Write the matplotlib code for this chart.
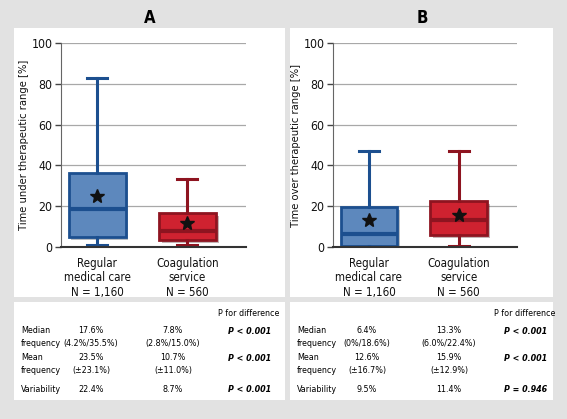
import matplotlib
matplotlib.use("Agg")
import matplotlib.pyplot as plt
import matplotlib.patheffects as pe
from matplotlib.patches import Rectangle

plt.rcParams['font.family'] = ['DejaVu Sans']
plt.rcParams['font.stretch'] = 'condensed'

# box plot values (percent)
groups = ['Regular\nmedical care\nN = 1,160', 'Coagulation\nservice\nN = 560']
under_lo = [1, 1]
under_q1 = [5, 3.5]
under_med = [18.5, 8]
under_q3 = [36.5, 16.5]
under_hi = [83, 33.5]
under_mean = [25, 12]

over_lo = [0, 0.5]
over_q1 = [0.5, 6]
over_med = [6.5, 13]
over_q3 = [19.5, 22.5]
over_hi = [47, 47]
over_mean = [13, 15.5]

# table text
row_names = ['Median\nfrequency', 'Mean\nfrequency', 'Variability']
tab_a_rc = ['17.6%\n(4.2%/35.5%)', '23.5%\n(\u00b123.1%)', '22.4%']
tab_a_cs = ['7.8%\n(2.8%/15.0%)', '10.7%\n(\u00b111.0%)', '8.7%']
tab_a_p = ['P < 0.001', 'P < 0.001', 'P < 0.001']
tab_b_rc = ['6.4%\n(0%/18.6%)', '12.6%\n(\u00b116.7%)', '9.5%']
tab_b_cs = ['13.3%\n(6.0%/22.4%)', '15.9%\n(\u00b112.9%)', '11.4%']
tab_b_p = ['P < 0.001', 'P < 0.001', 'P = 0.946']

W, H = 567, 419
fig = plt.figure(figsize=(W / 100, H / 100), dpi=100)
fig.patch.set_facecolor('#e2e2e2')

def px(x, y, w, h):
    return [x / W, 1 - (y + h) / H, w / W, h / H]

# white panels
for x0, w in ((14, 271), (290, 263)):
    for y0, h in ((28, 269), (302, 98)):
        r = px(x0, y0, w, h)
        fig.add_artist(Rectangle((r[0], r[1]), r[2], r[3], transform=fig.transFigure,
                                 facecolor='white', edgecolor='none', zorder=0))

fills = ['#5d88bd', '#cf2230']
edges = ['#1c4f8f', '#8e1420']

def draw_panel(ax, lo, q1, med, q3, hi, mean, ylabel):
    stats = []
    for i in range(2):
        stats.append(dict(whislo=lo[i], q1=q1[i], med=med[i], q3=q3[i],
                          whishi=hi[i], mean=mean[i], fliers=[]))
    ax.set_axisbelow(True)
    ax.yaxis.grid(True, color='#a8a8a8', lw=0.9)
    bp = ax.bxp(stats, positions=[1, 2], widths=0.63, capwidths=0.22,
                patch_artist=True, showmeans=True, showfliers=False,
                meanprops=dict(marker='*', markerfacecolor='#111111',
                               markeredgecolor='#111111', markersize=10))
    for i in range(2):
        b = bp['boxes'][i]
        b.set_facecolor(fills[i])
        b.set_edgecolor(edges[i])
        b.set_linewidth(2)
        b.set_path_effects([pe.SimplePatchShadow(offset=(2, -2), alpha=0.3), pe.Normal()])
        bp['medians'][i].set_color(edges[i])
        bp['medians'][i].set_linewidth(3)
        for ln in bp['whiskers'][2 * i:2 * i + 2] + bp['caps'][2 * i:2 * i + 2]:
            ln.set_color(edges[i])
            ln.set_linewidth(2.2)
    ax.set_xlim(0.6, 2.65)
    ax.set_ylim(0, 100)
    ax.set_yticks(range(0, 101, 20))
    ax.set_xticks([1, 2])
    ax.set_xticklabels(groups, fontsize=8.3, linespacing=1.15, color='#111111')
    ax.tick_params(axis='x', length=0, pad=7)
    ax.tick_params(axis='y', labelsize=8.8, length=4, width=1, color='#444444', pad=2,
                   labelcolor='#111111')
    for s in ('top', 'right'):
        ax.spines[s].set_visible(False)
    ax.spines['left'].set_color('#666666')
    ax.spines['bottom'].set_color('#333333')
    ax.spines['bottom'].set_linewidth(1.5)
    ax.set_ylabel(ylabel, fontsize=8, labelpad=2, color='#111111')
    ax.set_facecolor('none')

axA = fig.add_axes(px(61, 43, 185, 204))
draw_panel(axA, under_lo, under_q1, under_med, under_q3, under_hi, under_mean,
           'Time under therapeutic range [%]')
axB = fig.add_axes(px(333, 43, 184, 204))
draw_panel(axB, over_lo, over_q1, over_med, over_q3, over_hi, over_mean,
           'Time over therapeutic range [%]')

fig.text(150 / W, 1 - 18 / H, 'A', ha='center', va='center', fontsize=12, fontweight='bold')
fig.text(422 / W, 1 - 18 / H, 'B', ha='center', va='center', fontsize=12, fontweight='bold')

def draw_table(x0, c1, c2, p):
    fs = 6.4
    fig.text((x0 + 204) / W, 1 - 313 / H, 'P for difference', fontsize=fs, va='center')
    ys = [337, 364, 389]
    for i in range(3):
        y = 1 - ys[i] / H
        fig.text((x0 + 7) / W, y, row_names[i], fontsize=fs, va='center', linespacing=1.55)
        fig.text((x0 + 77) / W, y, c1[i], fontsize=fs, va='center', ha='center', linespacing=1.55)
        fig.text((x0 + 159) / W, y, c2[i], fontsize=fs, va='center', ha='center', linespacing=1.55)
        fig.text((x0 + 214) / W, 1 - (ys[i] - 6 if i < 2 else ys[i]) / H, p[i], fontsize=fs,
                 va='center', fontweight='bold', fontstyle='italic')

draw_table(14, tab_a_rc, tab_a_cs, tab_a_p)
draw_table(290, tab_b_rc, tab_b_cs, tab_b_p)

fig.savefig('out.png', dpi=100, facecolor=fig.get_facecolor())
